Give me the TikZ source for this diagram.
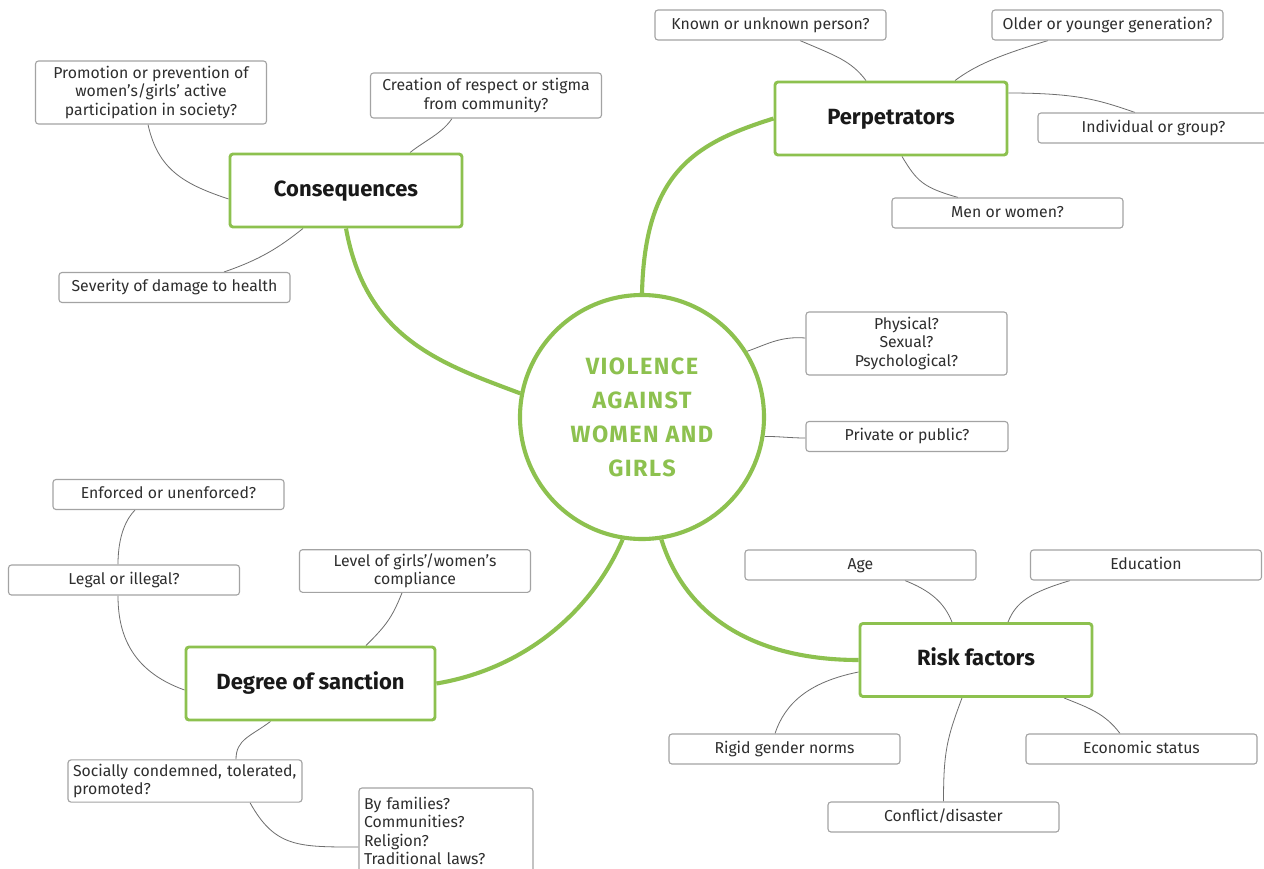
\documentclass[tikz,border=0pt]{standalone}
\usepackage{fontspec}
\setmainfont{Fira Sans}
\usetikzlibrary{calc}
\pgfdeclarelayer{bg}
\pgfdeclarelayer{paper}
\pgfsetlayers{paper,bg,main}
\definecolor{leaf}{HTML}{8DC14F}
\definecolor{rim}{HTML}{A3A3A3}
\definecolor{wire}{HTML}{6E6E6E}
\definecolor{ink}{HTML}{2E2E2E}
\tikzset{
  hub/.style={circle, draw=leaf, line width=4.1pt, fill=white, minimum size=244pt,
    align=center, text=leaf, font=\fontsize{23.5}{34}\selectfont\bfseries\addfontfeature{LetterSpace=6}},
  topic/.style={rectangle, rounded corners=3pt, draw=leaf, line width=2.9pt, fill=white,
    minimum width=232pt, minimum height=73pt, text height=16pt, text depth=5pt,
    font=\fontsize{22}{26}\selectfont\bfseries, text=black!90},
  leafbox/.style={rectangle, rounded corners=3pt, draw=rim, line width=1.1pt, fill=white,
    minimum width=231pt, minimum height=30pt, align=center, inner sep=4pt,
    font=\fontsize{15.8}{18.5}\selectfont, text=ink},
  oneline/.style={leafbox, text height=11.5pt, text depth=3.5pt},
  branch/.style={draw=leaf, line width=4.1pt},
  twig/.style={draw=wire, line width=0.8pt}
}
\begin{document}
\begin{tikzpicture}[x=1pt, y=-1pt]
\useasboundingbox (0,0) rectangle (1264,868);
\begin{pgfonlayer}{paper}
  \fill[white] (0,0) rectangle (1264,868);
\end{pgfonlayer}

% central theme
\node[hub] (V) at (642,417) {VIOLENCE\\AGAINST\\WOMEN AND\\GIRLS};

% main topics
\node[topic] (Pe) at (891,118.5) {Perpetrators};
\node[topic] (Co) at (346,190.5) {Consequences};
\node[topic, minimum width=249pt] (Dg) at (310.5,683.5) {Degree of sanction};
\node[topic] (Ri) at (976,660) {Risk factors};

% perpetrators
\node[oneline] (K)  at (770.5,25)  {Known or unknown person?};
\node[oneline] (O)  at (1107.5,25) {Older or younger generation?};
\node[oneline] (I)  at (1153.5,128) {Individual or group?};
\node[oneline] (M)  at (1007.5,213) {Men or women?};

% consequences
\node[leafbox, minimum height=63pt] (P) at (151,92.5) {Promotion or prevention of\\women’s/girls’ active\\participation in society?};
\node[leafbox, minimum height=45pt] (C) at (486,95.5) {Creation of respect or stigma\\from community?};
\node[oneline] (S) at (174.5,287.5) {Severity of damage to health};

% kinds and settings
\node[leafbox, minimum width=201pt, minimum height=63pt] (Ph) at (906.5,343.5) {Physical?\\Sexual?\\Psychological?};
\node[oneline, minimum width=202pt] (Pr) at (907,436.5) {Private or public?};

% degree of sanction
\node[oneline] (E)  at (168.5,494.5) {Enforced or unenforced?};
\node[oneline] (L)  at (124,580) {Legal or illegal?};
\node[leafbox, minimum height=42pt] (Lv) at (415,571) {Level of girls’/women’s\\compliance};
\node[leafbox, minimum width=234pt, minimum height=42pt, text width=224pt, align=left, inner xsep=5pt] (So) at (185,781) {Socially condemned, tolerated,\\promoted?};
\node[leafbox, minimum width=174pt, minimum height=86pt, text width=164pt, align=left, inner xsep=5pt] (B) at (446,831) {By families?\\Communities?\\Religion?\\Traditional laws?};

% risk factors
\node[oneline] (A)  at (860.5,565)  {Age};
\node[oneline] (Ed) at (1146,565)   {Education};
\node[oneline] (R)  at (784.5,749)  {Rigid gender norms};
\node[oneline] (Ec) at (1141.5,749) {Economic status};
\node[oneline] (Cf) at (943.5,817)  {Conflict/disaster};

\begin{pgfonlayer}{bg}
  % thick branches from the centre
  \draw[branch] (V.north) .. controls +(3,-120) and +(-80,25) .. (Pe.west);
  \draw[branch] (Co.south) .. controls +(20,110) and +(-80,-30) .. (V.169);
  \draw[branch] (Dg.east) .. controls +(90,-15) and +(-30,70) .. (V.261);
  \draw[branch] (V.279) .. controls +(25,80) and +(-100,0) .. (Ri.west);

  % perpetrators
  \draw[twig] ($(K.south)+(29.5,0)$) .. controls +(35,15) and +(-15,-20) .. ($(Pe.north)+(-25,0)$);
  \draw[twig] ($(O.south)+(-59.5,0)$) .. controls +(-50,15) and +(20,-15) .. ($(Pe.north)+(64,0)$);
  \draw[twig] ($(Pe.east)+(0,-25.5)$) .. controls +(70,0) and +(-35,-12) .. ($(I.north)+(-18.5,0)$);
  \draw[twig] ($(Pe.south)+(11,0)$) .. controls +(15,25) and +(-35,-10) .. ($(M.north)+(-49.5,0)$);

  % consequences
  \draw[twig] ($(P.south)+(-3,0)$) .. controls +(10,45) and +(-45,-15) .. ($(Co.west)+(0,8.5)$);
  \draw[twig] ($(C.south)+(-34,0)$) .. controls +(-10,15) and +(15,-12) .. ($(Co.north)+(64,0)$);
  \draw[twig] ($(S.north)+(49.5,0)$) .. controls +(35,-12) and +(-25,20) .. ($(Co.south)+(-43,0)$);

  % kinds and settings
  \draw[twig] (V.32) .. controls +(20,-7) and +(-25,-2) .. ($(Ph.west)+(0,-5.5)$);
  \draw[twig] (V.-9) .. controls +(15,0) and +(-15,0) .. ($(Pr.west)+(0,1.5)$);

  % degree of sanction
  \draw[twig] ($(Dg.west)+(0,6.5)$) .. controls +(-56,-20) and +(0,35) .. ($(L.south)+(-6,0)$);
  \draw[twig] ($(L.north)+(-6,0)$) .. controls +(0,-30) and +(-8,8) .. ($(E.south)+(-33.5,0)$);
  \draw[twig] ($(Lv.south)+(-13,0)$) .. controls +(-10,25) and +(20,-20) .. ($(Dg.north)+(55.5,0)$);
  \draw[twig] ($(Dg.south)+(-40,0)$) .. controls +(-20,15) and +(0,-20) .. ($(So.north)+(51,0)$);
  \draw[twig] ($(So.south)+(65,0)$) .. controls +(25,45) and +(-60,0) .. ($(B.west)+(0,16)$);

  % risk factors
  \draw[twig] ($(A.south)+(44.5,0)$) .. controls +(25,10) and +(-8,-20) .. ($(Ri.north)+(-24,0)$);
  \draw[twig] ($(Ed.south)+(-76,0)$) .. controls +(-40,12) and +(8,-20) .. ($(Ri.north)+(32,0)$);
  \draw[twig] ($(Ri.west)+(0,12)$) .. controls +(-50,10) and +(10,-30) .. ($(R.north)+(-9.5,0)$);
  \draw[twig] ($(Ri.south)+(88,0)$) .. controls +(25,10) and +(-15,-20) .. ($(Ec.north)+(-21.5,0)$);
  \draw[twig] ($(Ri.south)+(-14,0)$) .. controls +(-15,40) and +(0,-50) .. (Cf.north);
\end{pgfonlayer}
\end{tikzpicture}
\end{document}
